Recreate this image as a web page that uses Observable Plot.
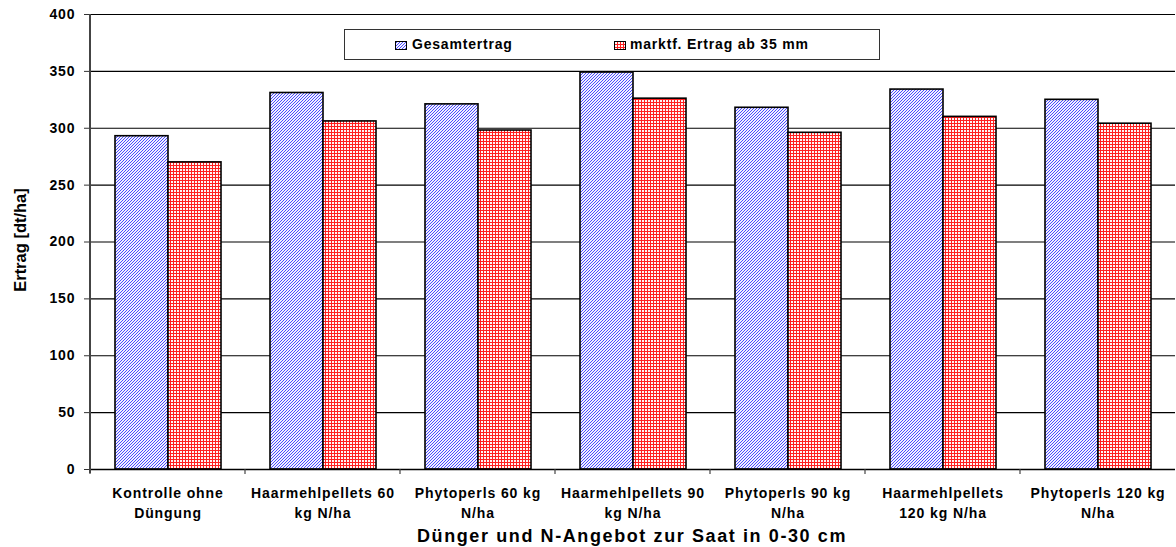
<!DOCTYPE html>
<html><head><meta charset="utf-8">
<script src="https://cdn.jsdelivr.net/npm/d3@7"></script>
<script src="https://cdn.jsdelivr.net/npm/@observablehq/plot@0.6"></script>
<style>
body{margin:0;background:#fff;}
#wrap{position:relative;width:1176px;height:547px;font-family:"Liberation Sans",Arial,sans-serif;font-weight:bold;color:#000;}
#chart svg text{letter-spacing:0.9px;}
.legend{position:absolute;left:344px;top:29px;width:534px;height:29px;border:1px solid #333;background:#fff;font-size:14px;letter-spacing:0.8px;}
.legend .sw{position:absolute;top:11px;width:12px;height:9px;}
.legend .lt{position:absolute;top:6px;white-space:nowrap;}
.ytitle{position:absolute;left:20px;top:240px;transform:translate(-50%,-50%) rotate(-90deg);font-size:16.5px;white-space:nowrap;}
.xtitle{position:absolute;left:632px;top:526px;transform:translateX(-50%);font-size:18px;letter-spacing:1.6px;white-space:nowrap;}
</style>
</head><body>
<div id="wrap">
  <div id="chart"></div>
  <div class="legend">
    <svg class="sw" style="left:50px" width="12" height="9"><rect x="0.5" y="0.5" width="11" height="8" fill="url(#patBlue)" stroke="#000" stroke-width="1"/></svg>
    <span class="lt" id="lg1" style="left:67px"></span>
    <svg class="sw" style="left:269px" width="12" height="9"><rect x="0.5" y="0.5" width="11" height="8" fill="url(#patRed)" stroke="#000" stroke-width="1"/></svg>
    <span class="lt" id="lg2" style="left:285px"></span>
  </div>
  <div class="ytitle" id="ytitle"></div>
  <div class="xtitle" id="xtitle"></div>
</div>
<script>
const categories = ["Kontrolle ohne\nDüngung", "Haarmehlpellets 60\nkg N/ha", "Phytoperls 60 kg\nN/ha", "Haarmehlpellets 90\nkg N/ha", "Phytoperls 90 kg\nN/ha", "Haarmehlpellets\n120 kg N/ha", "Phytoperls 120 kg\nN/ha"];
const seriesNames = ["Gesamtertrag", "marktf. Ertrag ab 35 mm"];
const gesamtertrag = [293, 331, 321, 349, 318, 334, 325];
const marktfErtrag = [270, 306, 298, 326, 296, 310, 304];
const yTicks = [0, 50, 100, 150, 200, 250, 300, 350, 400];
const yTitle = "Ertrag [dt/ha]";
const xTitle = "Dünger und N-Angebot zur Saat in 0-30 cm";

const data = [];
categories.forEach((c, i) => {
  data.push({category: c, series: seriesNames[0], value: gesamtertrag[i]});
  data.push({category: c, series: seriesNames[1], value: marktfErtrag[i]});
});

const chart = Plot.plot({
  width: 1176, height: 547,
  marginLeft: 88, marginRight: 0, marginTop: 14, marginBottom: 78,
  style: {fontFamily: "'Liberation Sans', Arial, sans-serif", fontSize: "14px", fontWeight: "bold", color: "#000", background: "#fff"},
  fx: {domain: categories, padding: 0, label: null},
  x: {domain: seriesNames, paddingInner: 0, paddingOuter: 0.44, axis: null},
  y: {domain: [0, 400], label: null},
  marks: [
    Plot.ruleY(yTicks.slice(1), {stroke: "#000", strokeWidth: 1.2}),
    Plot.barY(data.filter(d => d.series === seriesNames[0]), {fx: "category", x: "series", y: "value", fill: "url(#patBlue)", stroke: "#000", strokeWidth: 1.6}),
    Plot.barY(data.filter(d => d.series === seriesNames[1]), {fx: "category", x: "series", y: "value", fill: "url(#patRed)", stroke: "#000", strokeWidth: 1.6}),
    Plot.ruleY([0], {stroke: "#000", strokeWidth: 1.6}),
    Plot.axisY({ticks: yTicks, tickSize: 6, tickPadding: 9, label: null, stroke: "#333"}),
    Plot.axisFx({anchor: "bottom", tickSize: 0, tickPadding: 15, lineHeight: 1.4, label: null})
  ]
});
document.getElementById("chart").appendChild(chart);
document.getElementById("lg1").textContent = seriesNames[0];
document.getElementById("lg2").textContent = seriesNames[1];
document.getElementById("ytitle").textContent = yTitle;
document.getElementById("xtitle").textContent = xTitle;

const svg = d3.select(chart);
const defs = svg.insert("defs", ":first-child");
const pb = defs.append("pattern").attr("id", "patBlue").attr("patternUnits", "userSpaceOnUse").attr("width", 3).attr("height", 3);
pb.append("rect").attr("width", 3).attr("height", 3).attr("fill", "#f0f0ff");
pb.append("path").attr("d", "M-1,1 L1,-1 M0,3 L3,0 M2,4 L4,2").attr("stroke", "#4a4aff").attr("stroke-width", 1.0);
const pr = defs.append("pattern").attr("id", "patRed").attr("patternUnits", "userSpaceOnUse").attr("width", 3).attr("height", 3);
pr.append("rect").attr("width", 3).attr("height", 3).attr("fill", "#fff4f4");
pr.append("rect").attr("width", 3).attr("height", 1).attr("fill", "#ff2020");
pr.append("rect").attr("width", 1).attr("height", 3).attr("fill", "#ff2020");

const fx = chart.scale("fx");
const y = chart.scale("y");
const y0 = y.apply(0), yTop = y.apply(400);
const xLeft = fx.apply(categories[0]);
svg.append("line").attr("x1", xLeft).attr("x2", xLeft).attr("y1", yTop).attr("y2", y0 + 4).attr("stroke", "#444").attr("stroke-width", 2);
categories.forEach(c => {
  const x0 = fx.apply(c);
  svg.append("line").attr("x1", x0).attr("x2", x0).attr("y1", y0).attr("y2", y0 + 5).attr("stroke", "#444").attr("stroke-width", 1.2);
});
</script>
</body></html>
